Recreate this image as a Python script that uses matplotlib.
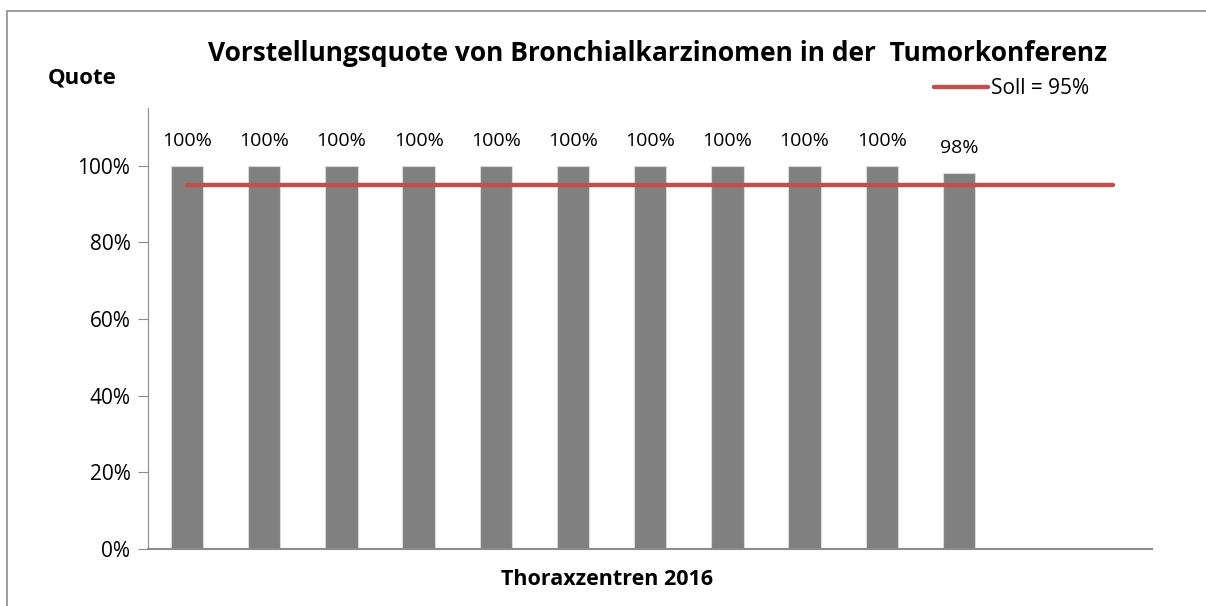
import matplotlib
matplotlib.use('Agg')
from matplotlib import pyplot as plt
from matplotlib.patches import Rectangle
from matplotlib.ticker import FuncFormatter

# data
zentren = list(range(1, 14))
quote = [1.00, 1.00, 1.00, 1.00, 1.00, 1.00, 1.00, 1.00, 1.00, 1.00, 0.98, None, None]
labels = ['100%', '100%', '100%', '100%', '100%', '100%', '100%', '100%', '100%', '100%', '98%', '', '']
soll = 0.95

plt.rcParams['font.family'] = ['Open Sans', 'DejaVu Sans']

fig = plt.figure(figsize=(12.06, 6.06), dpi=100)
ax = fig.add_axes([0.1231, 0.0941, 0.8321, 0.7277])

# outer frame of the chart
fig.patches.append(Rectangle((7 / 1206, -0.05), 1.2, 1 - 11 / 606 + 0.05, transform=fig.transFigure,
                             fill=False, edgecolor='#8c8c8c', linewidth=1.2))

xs = [z for z, q in zip(zentren, quote) if q is not None]
ys = [q for q in quote if q is not None]
bars = ax.bar(xs, ys, width=0.42, color='#808080', edgecolor='#d9d9d9', linewidth=0.8, zorder=2)
for b, lab in zip(bars, labels):
    ax.annotate(lab, (b.get_x() + b.get_width() / 2, b.get_height()), xytext=(0, 18),
                textcoords='offset points', ha='center', va='center', fontsize=14)

ax.plot([zentren[0], zentren[-1]], [soll, soll], color='#c0504d', linewidth=3.2,
        solid_capstyle='round', zorder=3, label='Soll = 95%')

ax.set_xlim(0.5, 13.5)
ax.set_ylim(0, 1.15)
ax.set_yticks([0, 0.2, 0.4, 0.6, 0.8, 1.0])
ax.yaxis.set_major_formatter(FuncFormatter(lambda v, p: '%d%%' % round(v * 100)))
ax.set_xticks([])
for s in ['top', 'right']:
    ax.spines[s].set_visible(False)
ax.spines['left'].set_color('#8c8c8c')
ax.spines['bottom'].set_color('#8c8c8c')
ax.spines['bottom'].set_linewidth(1.5)
ax.tick_params(axis='y', length=7, color='#8c8c8c', labelsize=15, pad=6)

fig.text(0.545, 0.912, 'Vorstellungsquote von Bronchialkarzinomen in der  Tumorkonferenz',
         ha='center', va='center', fontsize=19, fontweight='bold')
fig.text(0.068, 0.871, 'Quote', ha='center', va='center', fontsize=16, fontweight='bold')
fig.text(0.503, 0.043, 'Thoraxzentren 2016', ha='center', va='center', fontsize=15.5, fontweight='bold')

ax.legend(loc='center left', bbox_to_anchor=(934 / 1206, 1 - 89 / 606), bbox_transform=fig.transFigure,
          frameon=False, fontsize=15, handlelength=2.6, handletextpad=0.15, borderpad=0, borderaxespad=0)

fig.savefig('out.png', dpi=100)
